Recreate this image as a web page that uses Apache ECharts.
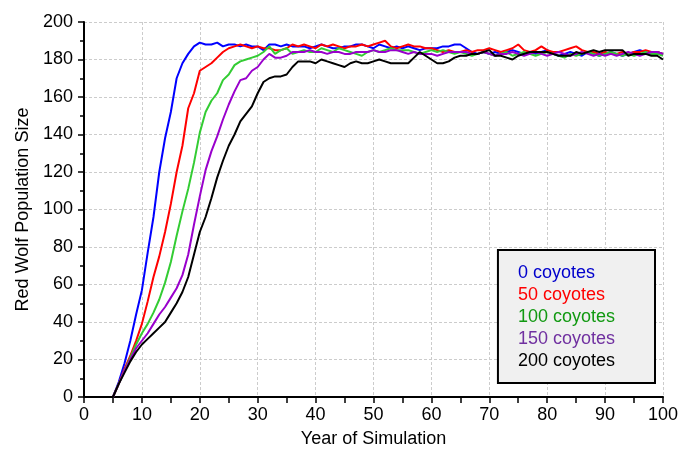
<!DOCTYPE html>
<html>
<head>
<meta charset="utf-8">
<script src="https://cdn.jsdelivr.net/npm/echarts@6/dist/echarts.min.js"></script>
<style>html,body{margin:0;padding:0;background:#fff}#c{width:681px;height:453px}</style>
</head>
<body>
<div id="c"></div>
<script>
const years = Array.from({length: 101}, (_, i) => i);
const seriesNames = ['0 coyotes', '50 coyotes', '100 coyotes', '150 coyotes', '200 coyotes'];
const xTicks = [0,10,20,30,40,50,60,70,80,90,100];
const yTicks = [0,20,40,60,80,100,120,140,160,180,200];

const coy0 = [0,0,0,0,0,0,8,18,30,44,57,77,96,120,138,152,170,178,183,187,189,
188,188,189,187,188,188,187,188,187,187,
185,188,188,187,188,187,187,187,186,187,
188,187,186,186,187,187,188,188,187,186,
188,187,186,187,186,187,186,185,186,186,
186,187,187,188,188,186,184,183,184,183,
184,183,184,185,184,183,184,183,184,185,
183,182,183,184,183,182,184,183,182,183,
184,183,182,183,184,185,184,183,184,183];

const coy50 = [0,0,0,0,0,0,7,15,22,30,39,51,64,75,88,103,120,134,154,162,174,
176,178,181,184,186,187,188,187,186,187,
186,186,185,185,186,188,187,188,187,186,
188,187,188,187,186,187,187,188,187,188,
189,190,187,186,187,188,187,187,186,186,
185,184,185,184,184,185,184,185,185,186,
185,184,185,186,188,185,184,185,187,185,
184,184,185,186,187,185,184,184,183,184,
183,183,184,183,184,184,185,184,184,183];

const coy100 = [0,0,0,0,0,0,7,14,21,28,34,39,45,52,61,72,86,99,111,125,141,
152,158,162,169,172,177,179,180,181,182,
184,187,183,185,186,183,184,185,184,184,
186,185,184,186,185,184,183,182,184,185,
184,185,186,185,185,185,184,183,184,185,
184,185,184,183,184,183,182,183,184,183,
182,183,184,182,183,184,183,182,183,184,
183,182,181,183,182,183,184,183,182,183,
184,183,182,183,182,183,184,183,183,182];

const coy150 = [0,0,0,0,0,0,7,14,20,26,30,34,39,44,48,53,58,65,76,92,107,
121,131,139,148,156,163,169,170,174,176,
180,183,181,181,182,184,184,184,185,184,
184,183,184,184,183,183,184,184,184,185,
184,184,185,185,184,183,184,183,183,183,
182,183,184,184,184,184,183,183,184,183,
182,183,183,184,183,182,183,184,183,182,
183,184,183,182,183,184,183,182,183,182,
183,182,183,184,183,182,183,184,184,183];

const coy200 = [0,0,0,0,0,0,7,13,19,24,28,31,34,37,40,45,50,56,64,76,88,
96,106,117,126,134,140,147,151,155,162,
168,170,171,171,172,176,179,179,179,178,
180,179,178,177,176,178,179,178,178,179,
180,179,178,178,178,178,181,184,182,180,
178,178,179,181,182,182,183,183,184,185,
182,182,181,180,182,183,184,184,184,184,
183,182,182,182,184,183,184,185,184,185,
185,185,185,182,183,183,183,182,182,180];

const lineColors = ['#0000ff', '#ff0000', '#33cc33', '#9900cc', '#000000'];
const textColors = ['#0000cc', '#ff0000', '#119911', '#7030a0', '#000000'];
const allData = [coy0, coy50, coy100, coy150, coy200];

const font = 'Liberation Sans, Arial, sans-serif';
const chart = echarts.init(document.getElementById('c'), null, {renderer: 'canvas'});
chart.setOption({
  animation: false,
  backgroundColor: '#ffffff',
  grid: {left: 84, right: 15, top: 22, bottom: 56, containLabel: false},
  legend: {
    orient: 'vertical',
    right: 26, bottom: 70,
    backgroundColor: '#f0f0f0',
    borderColor: '#000', borderWidth: 2,
    padding: [14, 40, 13, 15],
    itemWidth: 0, itemHeight: 0, itemGap: 4,
    icon: 'rect',
    selectedMode: false,
    data: seriesNames.map((n, i) => ({name: n, textStyle: {color: textColors[i]}})),
    textStyle: {fontFamily: font, fontSize: 18, lineHeight: 18}
  },
  xAxis: {
    type: 'value', min: 0, max: 100, interval: 10,
    name: 'Year of Simulation', nameLocation: 'middle', nameGap: 33,
    nameTextStyle: {fontFamily: font, fontSize: 18, color: '#000'},
    axisLine: {onZero: false, lineStyle: {color: '#000', width: 2}},
    axisTick: {show: true, length: 6, lineStyle: {color: '#000', width: 1.5}},
    minorTick: {show: true, splitNumber: 2, length: 6, lineStyle: {color: '#000', width: 1.5}},
    axisLabel: {fontFamily: font, fontSize: 18, color: '#000', margin: 9,
      formatter: v => xTicks.includes(v) ? String(v) : ''},
    splitLine: {show: true, lineStyle: {color: '#cccccc', type: [3, 2], width: 1}}
  },
  yAxis: {
    type: 'value', min: 0, max: 200, interval: 20,
    name: 'Red Wolf Population Size', nameLocation: 'middle', nameGap: 52,
    nameTextStyle: {fontFamily: font, fontSize: 18, color: '#000'},
    axisLine: {onZero: false, lineStyle: {color: '#000', width: 2}},
    axisTick: {show: true, length: 6, lineStyle: {color: '#000', width: 1.5}},
    minorTick: {show: true, splitNumber: 2, length: 4, lineStyle: {color: '#000', width: 1.5}},
    axisLabel: {fontFamily: font, fontSize: 18, color: '#000', margin: 11,
      formatter: v => yTicks.includes(v) ? String(v) : ''},
    splitLine: {show: true, lineStyle: {color: '#cccccc', type: [3, 2], width: 1}}
  },
  series: seriesNames.map((n, i) => ({
    name: n, type: 'line', showSymbol: false, symbol: 'none',
    data: years.map((y, j) => [y, allData[i][j]]),
    lineStyle: {color: lineColors[i], width: 2},
    itemStyle: {color: lineColors[i]},
    z: 2 + i
  }))
});
</script>
</body>
</html>
